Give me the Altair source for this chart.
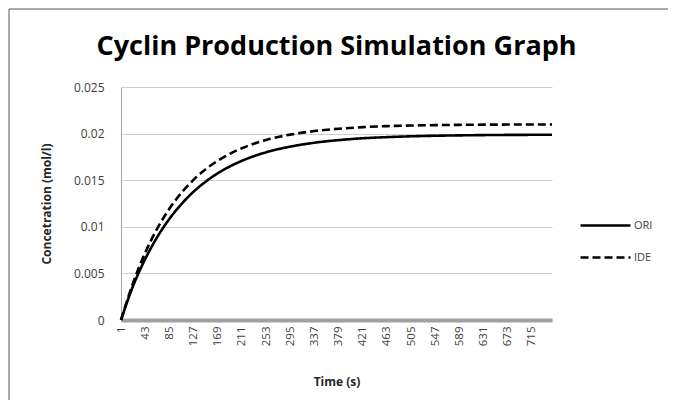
import altair as alt
import pandas as pd

# Time points (s) and values
time_s = [1, 22, 43, 64, 85, 106, 127, 148, 169, 190, 211, 232, 253, 274, 295,
          337, 379, 421, 463, 505, 547, 589, 631, 673, 715, 750]
ori = [0.0, 0.00366, 0.00653, 0.0089, 0.01084, 0.01244, 0.01376, 0.01484, 0.01574,
       0.01647, 0.01708, 0.01758, 0.01799, 0.01833, 0.0186, 0.01902, 0.0193, 0.0195,
       0.01962, 0.01971, 0.01977, 0.01981, 0.01984, 0.01986, 0.01987, 0.01988]
ide = [0.0, 0.00397, 0.0072, 0.00981, 0.01193, 0.01365, 0.01504, 0.01617, 0.01709,
       0.01783, 0.01843, 0.01892, 0.01932, 0.01963, 0.01989, 0.02027, 0.02052, 0.02069,
       0.0208, 0.02087, 0.02091, 0.02094, 0.02096, 0.02097, 0.02098, 0.02098]
series_names = ["ORI", "IDE"]
x_ticks = [1, 43, 85, 127, 169, 211, 253, 295, 337, 379, 421, 463, 505, 547, 589, 631, 673, 715]
y_ticks = [0, 0.005, 0.01, 0.015, 0.02, 0.025]

rows = []
for name, vals in zip(series_names, [ori, ide]):
    for t, v in zip(time_s, vals):
        rows.append({"t": t, "c": v, "series": name})
df = pd.DataFrame(rows)

FONT = "Open Sans"

one = pd.DataFrame({"a": [0]})
frame_left = alt.Chart(one).mark_rule(stroke="#8c8c8c", strokeWidth=1.5).encode(
    x=alt.value(-112), y=alt.value(-78), y2=alt.value(313)
)
frame_top = alt.Chart(one).mark_rule(stroke="#8c8c8c", strokeWidth=1.5).encode(
    x=alt.value(-112), x2=alt.value(547), y=alt.value(-78)
)

lines = alt.Chart(df).mark_line(strokeWidth=2.6, color="black", interpolate="monotone").encode(
    x=alt.X("t:Q",
            scale=alt.Scale(domain=[1, 750], nice=False, zero=False),
            axis=alt.Axis(values=x_ticks, labelAngle=270, labelAlign="right",
                          labelBaseline="middle", labelPadding=6, ticks=False,
                          grid=False, domainColor="#a0a0a0", domainWidth=4,
                          labelFont=FONT, labelFontSize=11.5, labelColor="#404040",
                          title="Time (s)", titleFont=FONT, titleFontSize=12,
                          titleFontWeight="bold", titleColor="#262626",
                          titleBaseline="middle", titleY=61)),
    y=alt.Y("c:Q",
            scale=alt.Scale(domain=[0, 0.025], nice=False),
            axis=alt.Axis(values=y_ticks, labelExpr="format(datum.value, '~g')",
                          ticks=False, labelPadding=17, domainColor="#a6a6a6",
                          gridColor="#cfcfcf", gridWidth=1.2,
                          labelFont=FONT, labelFontSize=12, labelColor="#404040",
                          title="Concetration (mol/l)", titleFont=FONT, titleFontSize=12,
                          titleFontWeight="bold", titleColor="#262626",
                          titleBaseline="middle", titleX=-75, titleY=116.5)),
    strokeDash=alt.StrokeDash("series:N",
                              scale=alt.Scale(domain=series_names, range=[[1, 0], [8, 4]]),
                              legend=alt.Legend(title=None, orient="none", legendX=458,
                                                legendY=112, symbolType="stroke",
                                                symbolSize=2500, symbolStrokeWidth=2.6,
                                                symbolStrokeColor="black", labelFont=FONT,
                                                labelFontSize=11, labelColor="#404040",
                                                labelOffset=2, rowPadding=-10)),
    detail="series:N",
)

chart = alt.layer(frame_left, frame_top, lines).properties(
    width=431, height=233,
    autosize=alt.AutoSizeParams(type="none"),
    padding={"left": 113, "top": 79, "right": 116, "bottom": 80},
    title=alt.TitleParams("Cyclin Production Simulation Graph", font=FONT,
                          fontSize=27, fontWeight="bold", color="black",
                          anchor="middle", offset=0, dy=53),
).configure_view(stroke=None)

chart.save("out.html", embed_options={"renderer": "svg", "actions": False})
